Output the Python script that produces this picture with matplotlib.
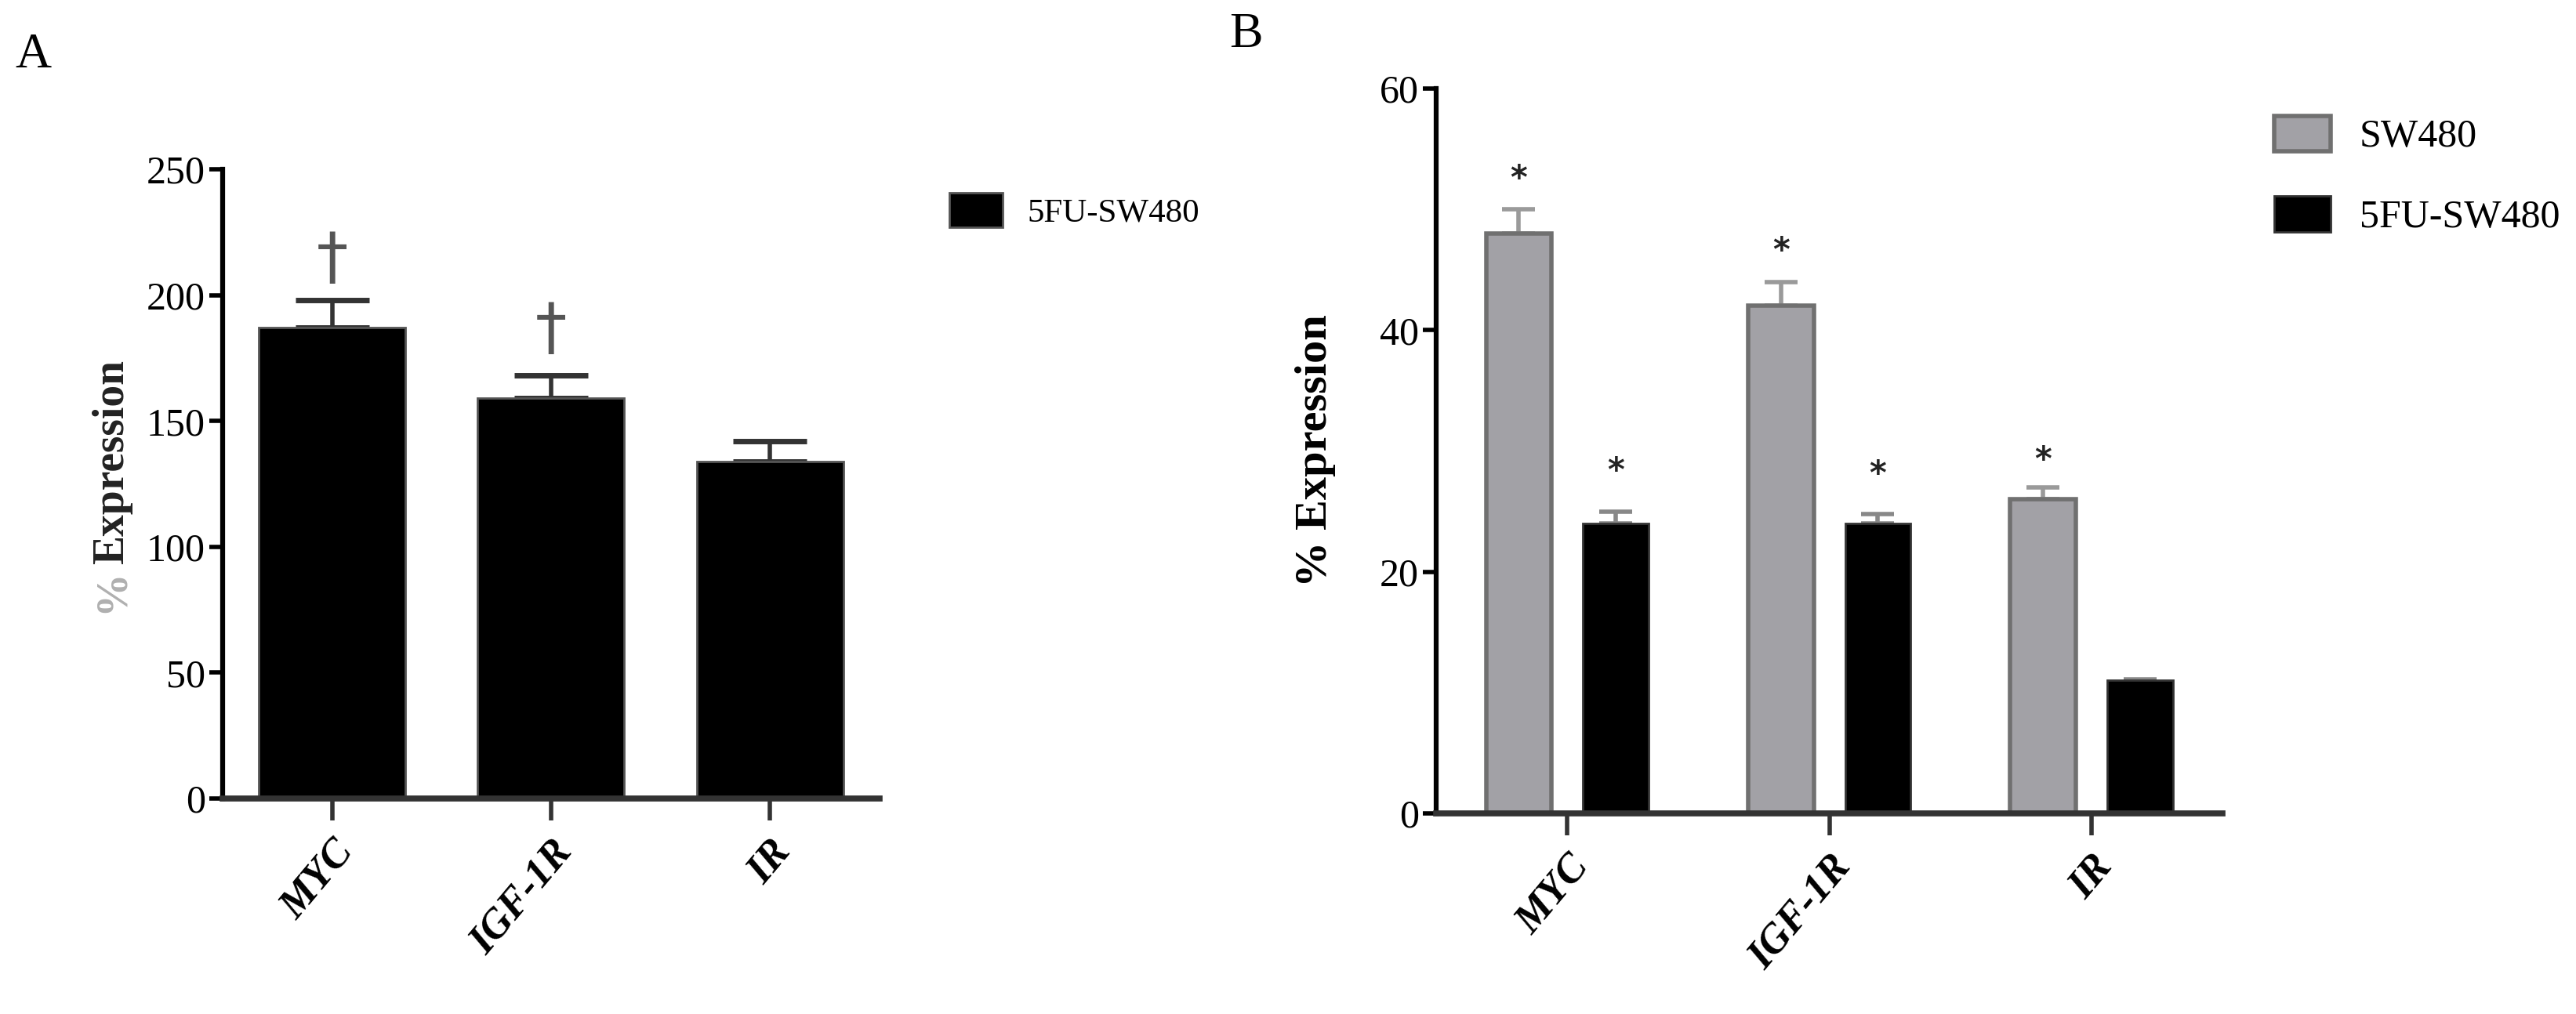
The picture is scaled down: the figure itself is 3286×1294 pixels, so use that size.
import numpy as np
import matplotlib
matplotlib.use("Agg")
import matplotlib.pyplot as plt

plt.rcParams['font.family'] = ['Liberation Serif', 'DejaVu Serif']

# ---------- data ----------
genes = ["MYC", "IGF-1R", "IR"]

# panel A: 5FU-SW480 only
a_vals = [187, 159, 134]
a_err = [11, 9, 8]
a_marks = ["†", "†", ""]
a_mark_y = [214, 186, 0]

# panel B: SW480 vs 5FU-SW480
b_sw480 = [48, 42, 26]
b_sw480_err = [2, 2, 1]
b_5fu = [24, 24, 11]
b_5fu_err = [1, 0.8, 0.1]
b_sw480_star = [52.5, 46.5, 29.2]
b_5fu_star = [28.3, 28.0, 0]

A_TICKS = [0, 50, 100, 150, 200, 250]
B_TICKS = [0, 20, 40, 60]

GRAY = "#a2a1a6"
GRAY_EDGE = "#707070"

fig = plt.figure(figsize=(32.87, 12.94), dpi=100)

tick_fs = 36
cat_fs = 38


def style_axes(ax, yticks):
    for s in ["top", "right"]:
        ax.spines[s].set_visible(False)
    ax.spines["left"].set_linewidth(4.5)
    ax.spines["bottom"].set_linewidth(5.5)
    ax.spines["bottom"].set_color("#333333")
    ax.set_yticks(yticks)
    ax.set_xlim(-0.5, 2.5)
    ax.set_ylim(0, yticks[-1])
    ax.tick_params(axis="y", length=12, width=4, labelsize=tick_fs, pad=4)
    ax.tick_params(axis="x", length=20, width=4, colors="#333333", pad=12)
    ax.set_xticks(range(len(genes)))
    ax.set_xticklabels(genes, rotation=50, ha="right", rotation_mode="anchor",
                       fontsize=cat_fs, fontweight="bold", fontstyle="italic",
                       color="black")


# ---------- panel A ----------
axA = fig.add_axes([0.0864, 0.2125, 0.2549, 0.6205])
x = np.arange(len(genes))
barsA = axA.bar(x, a_vals, width=0.67, color="black", edgecolor="#555555",
                linewidth=2, label="5FU-SW480", zorder=2)
axA.errorbar(x, a_vals, yerr=[np.zeros(len(a_err)), a_err], fmt="none",
             ecolor="#333333", elinewidth=4, capsize=34, capthick=5, zorder=1)
for xi, m, my in zip(x, a_marks, a_mark_y):
    if m:
        axA.text(xi, my, m, ha="center", va="center", fontsize=58,
                 color="#555555", family="DejaVu Sans")
style_axes(axA, A_TICKS)
# y label: grey "%" and dark "Expression", as in the original
fig.text(0.0435, 0.4436, "Expression", rotation=90, ha="center", va="bottom",
         fontsize=40, fontweight="bold", color="#222222")
fig.text(0.0435, 0.4390, "%", rotation=90, ha="center", va="top",
         fontsize=40, fontweight="bold", color="#b0b0b0")
axA.legend(handles=[barsA], loc="center left", bbox_to_anchor=(0.3684, 0.792),
           bbox_transform=fig.transFigure, frameon=False, fontsize=31,
           handlelength=1.58, handleheight=1.2, handletextpad=0.74,
           borderpad=0, borderaxespad=0)

fig.text(0.006, 0.945, "A", fontsize=46, ha="left", va="center")

# ---------- panel B ----------
axB = fig.add_axes([0.5574, 0.1978, 0.3051, 0.7149])
off = 0.185
w = 0.25
barsB1 = axB.bar(x - off, b_sw480, width=w, color=GRAY, edgecolor=GRAY_EDGE,
                 linewidth=4, label="SW480", zorder=2)
barsB2 = axB.bar(x + off, b_5fu, width=w, color="black", edgecolor="#333333",
                 linewidth=2, label="5FU-SW480", zorder=2)
axB.errorbar(x - off, b_sw480, yerr=[np.zeros(3), b_sw480_err], fmt="none",
             ecolor="#9a9a9a", elinewidth=4, capsize=15, capthick=4, zorder=1)
axB.errorbar(x + off, b_5fu, yerr=[np.zeros(3), b_5fu_err], fmt="none",
             ecolor="#888888", elinewidth=4, capsize=15, capthick=4, zorder=1)
for xi, sy in zip(x - off, b_sw480_star):
    if sy:
        axB.text(xi, sy, "*", ha="center", va="center", fontsize=30,
                 family="DejaVu Sans", fontweight="bold", color="#222222")
for xi, sy in zip(x + off, b_5fu_star):
    if sy:
        axB.text(xi, sy, "*", ha="center", va="center", fontsize=30,
                 family="DejaVu Sans", fontweight="bold", color="#222222")
style_axes(axB, B_TICKS)
axB.set_ylabel("% Expression", fontsize=42, fontweight="bold", labelpad=40)
axB.legend(handles=[barsB1, barsB2], loc="upper left",
           bbox_to_anchor=(0.8826, 0.886), bbox_transform=fig.transFigure,
           frameon=False, fontsize=36, handlelength=1.44, handleheight=1.02,
           handletextpad=0.74, labelspacing=1.04, borderpad=0,
           borderaxespad=0)

fig.text(0.477, 0.965, "B", fontsize=46, ha="left", va="center")

fig.savefig("out.png", dpi=100)
